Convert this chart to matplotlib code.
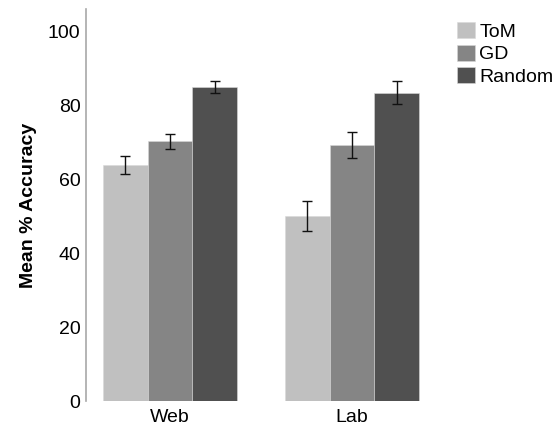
import numpy as np
import matplotlib
matplotlib.use('Agg')
import matplotlib.pyplot as plt
from matplotlib.patches import Patch

plt.rcParams['font.family'] = ['Liberation Sans', 'DejaVu Sans']

# dados
grupos = ['Web', 'Lab']
condicoes = ['ToM', 'GD', 'Random']
medias = {
    'ToM': [63.9, 50.1],
    'GD': [70.2, 69.2],
    'Random': [84.9, 83.4],
}
erros = {
    'ToM': [2.4, 4.0],
    'GD': [2.0, 3.5],
    'Random': [1.6, 3.0],
}
cores = {'ToM': '#c0c0c0', 'GD': '#858585', 'Random': '#505050'}

fig = plt.figure(figsize=(5.6, 4.26), dpi=100)
ax = fig.add_axes([86 / 560, 1 - 401 / 426, 350 / 560, 392 / 426])

x = np.arange(len(grupos))
largura = 0.245
for i, c in enumerate(condicoes):
    pos = x + (i - 1) * largura
    ax.bar(pos, medias[c], largura, color=cores[c], edgecolor='#d8d8d8',
           linewidth=0.4)
    ax.errorbar(pos, medias[c], yerr=erros[c], fmt='none', ecolor='#111111',
                elinewidth=1.0, capsize=3.3, capthick=1.0)

ax.set_xlim(-0.4615, 1.4615)
ax.set_ylim(0, 106)
ax.set_yticks([0, 20, 40, 60, 80, 100])
ax.set_xticks(x)
ax.set_xticklabels(grupos)
ax.tick_params(axis='both', length=0, labelsize=14)
ax.tick_params(axis='y', pad=4)
ax.tick_params(axis='x', pad=5.5)
for s in ['top', 'right', 'bottom']:
    ax.spines[s].set_visible(False)
ax.spines['left'].set_color('#a8a8a8')
ax.spines['left'].set_linewidth(1.2)
ax.set_ylabel('Mean % Accuracy', fontsize=14, fontweight='bold', labelpad=8)

handles = [Patch(facecolor=cores[c], edgecolor='#d8d8d8', linewidth=0.4)
           for c in condicoes]
fig.legend(handles, condicoes, loc='upper left',
           bbox_to_anchor=(457 / 560, 1 - 22 / 426), frameon=False,
           fontsize=14, handlelength=0.9, handleheight=0.9,
           handletextpad=0.25, labelspacing=0.2, borderaxespad=0,
           borderpad=0)

fig.savefig('out.png', dpi=100)
